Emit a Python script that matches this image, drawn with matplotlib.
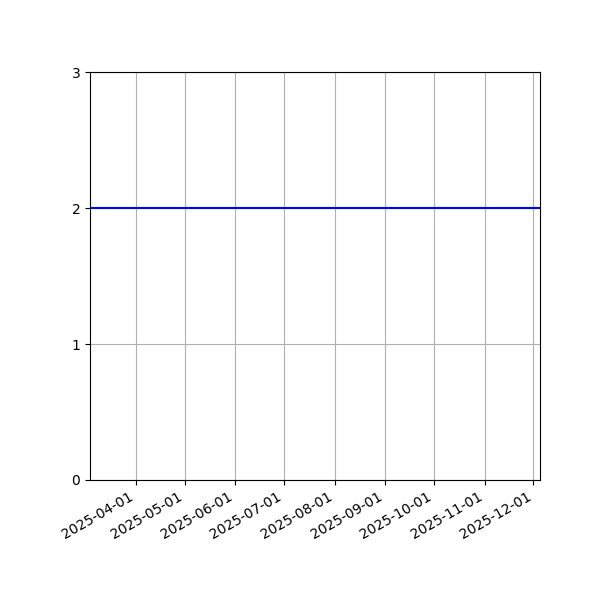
import matplotlib
matplotlib.use("Agg")
import matplotlib.pyplot as plt
import matplotlib.dates as mdates
import numpy as np
import datetime as dt

dates = [dt.datetime(2025, 3, 4), dt.datetime(2025, 12, 5)]
values = [2, 2]

fig, ax = plt.subplots(figsize=(6, 6), dpi=100)
ax.plot(dates, values, color="blue", linewidth=1.5)
ax.set_xlim(dates[0], dates[-1])
ax.set_ylim(0, 3)
ax.set_yticks([0, 1, 2, 3])
ax.xaxis.set_major_locator(mdates.MonthLocator())
ax.xaxis.set_major_formatter(mdates.DateFormatter("%Y-%m-%d"))
ax.grid(True)
fig.autofmt_xdate()
fig.subplots_adjust(left=0.15, right=0.9, top=0.88, bottom=0.2)
fig.savefig("out.png")
